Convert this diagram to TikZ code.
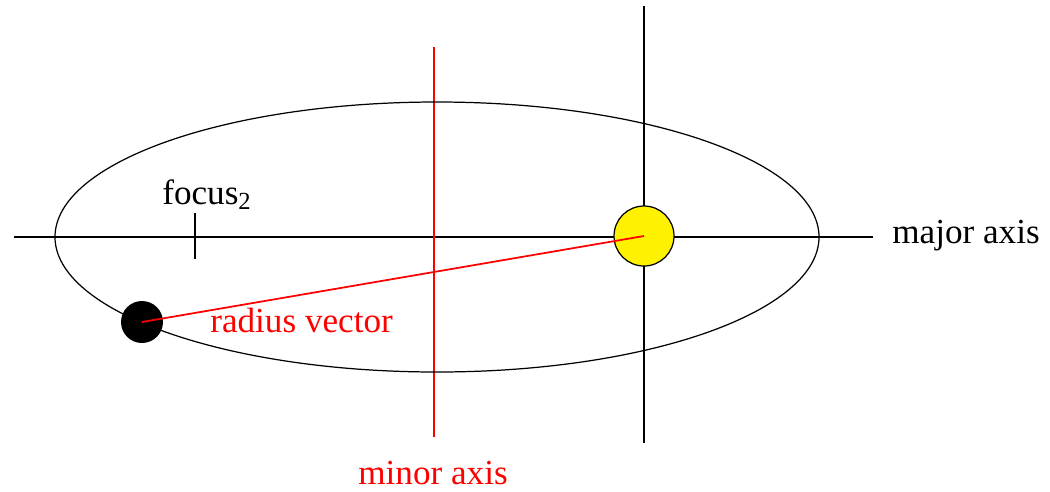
\documentclass[tikz,border=0pt]{standalone}
\usepackage{fontspec}
\setmainfont{Liberation Serif}
\usetikzlibrary{calc, positioning}

\tikzset{
  lbl/.style={anchor=base west, inner sep=0pt},
  axis/.style={line width=1pt},
}

\begin{document}
\begin{tikzpicture}[x=0.02cm, y=-0.02cm, font=\fontsize{20}{24}\selectfont]
\useasboundingbox (0,0) rectangle (1050,491);
\coordinate (O) at (437,237);
\coordinate (F2) at (195,237);
% axes
\draw[axis] (14,237) -- (873,237);
\draw[axis, red] (434,47) -- (434,437);
\draw[axis] (644,6) -- (644,443);
\draw[axis] ($(F2)+(0,-24)$) -- ($(F2)+(0,22)$);
% orbit
\draw[line width=0.7pt] (O) ellipse (382 and 135);
% sun and planet
\node[circle, draw, line width=0.7pt, fill=yellow, minimum size=1.2cm, inner sep=0pt] (sun) at (644,236) {};
\node[circle, fill=black, minimum size=0.84cm, inner sep=0pt] (planet) at (142,322) {};
\draw[axis, red] (planet.center) -- (sun.center);
% labels
\node[lbl] (focuslbl) at (162,204) {focus\textsubscript{2}};
\node[lbl, red] (radlbl) at (210,332) {radius vector};
\node[lbl] (majlbl) at (892,243) {major axis};
\node[lbl, red] (minlbl) at (358,484) {minor axis};
\end{tikzpicture}
\end{document}
